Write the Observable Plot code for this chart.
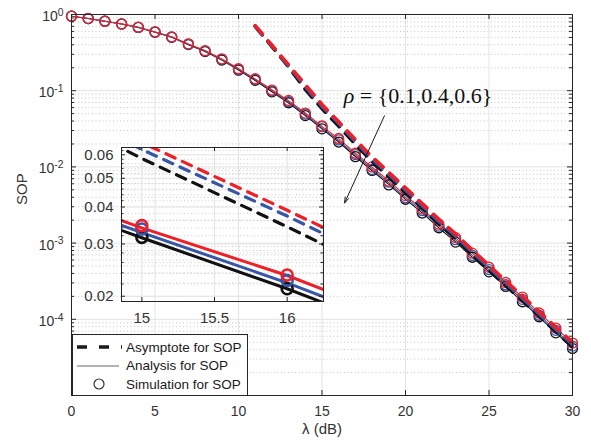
<!DOCTYPE html>
<html><head><meta charset="utf-8">
<script src="https://cdn.jsdelivr.net/npm/d3@7"></script>
<script src="https://cdn.jsdelivr.net/npm/@observablehq/plot@0.6"></script>
<style>
body{margin:0;background:#fff;}
#wrap{position:relative;width:591px;height:447px;font-family:"Liberation Sans",Arial,sans-serif;}
#wrap > svg.layer{position:absolute;left:0;top:0;overflow:visible;}
</style></head><body><div id="wrap"></div>
<script>
// ---------- data ----------
const lambdaDb = [0,1,2,3,4,5,6,7,8,9,10,11,12,13,14,15,16,17,18,19,20,21,22,23,24,25,26,27,28,29,30];
const rhoValues = ["0.1","0.4","0.6"];
const seriesColors = ["#111111","#3656a8","#ee1f26"];

const analysisRho01 = [0.95,0.884,0.815,0.75,0.676,0.585,0.503,0.402,0.327,0.252,0.187,0.136,0.097,0.069,0.0473,0.0315,0.0212,0.0137,0.0089,0.0059,0.00375,0.00249,0.00158,0.00104,0.00065,0.000422,0.000268,0.000171,0.000107,0.0000668,0.0000418];
const analysisRho04 = [0.95,0.885,0.816,0.752,0.678,0.588,0.507,0.406,0.332,0.257,0.191,0.14,0.1,0.0715,0.049,0.0328,0.0222,0.0144,0.0094,0.0062,0.00395,0.00264,0.00168,0.0011,0.00069,0.000448,0.000285,0.000182,0.000114,0.0000712,0.0000447];
const analysisRho06 = [0.95,0.885,0.817,0.753,0.68,0.59,0.51,0.41,0.336,0.261,0.195,0.143,0.103,0.074,0.051,0.034,0.0235,0.0152,0.0099,0.0066,0.0042,0.0028,0.00178,0.00117,0.00074,0.00048,0.000305,0.000195,0.000122,0.0000765,0.000049];

const simRho01 = [0.951,0.883,0.816,0.749,0.677,0.586,0.502,0.403,0.326,0.253,0.186,0.137,0.0965,0.0695,0.0471,0.0316,0.0212,0.0136,0.0090,0.0058,0.00376,0.00248,0.00159,0.00103,0.000652,0.00042,0.00027,0.00017,0.000108,0.0000665,0.0000415];
const simRho04 = [0.95,0.886,0.815,0.753,0.677,0.589,0.506,0.407,0.331,0.258,0.19,0.141,0.0995,0.072,0.0492,0.0337,0.0226,0.0145,0.0093,0.0063,0.00394,0.00266,0.00167,0.00111,0.000688,0.00045,0.000284,0.000183,0.000113,0.0000716,0.0000445];
const simRho06 = [0.951,0.884,0.818,0.752,0.681,0.592,0.508,0.412,0.335,0.262,0.194,0.144,0.102,0.0745,0.0508,0.0346,0.0236,0.0151,0.0100,0.0065,0.0042,0.00281,0.00177,0.00118,0.000738,0.000482,0.000304,0.000196,0.000121,0.0000768,0.0000488];

const asymLambdaDb = [11,12,13,14,15,16,17,18,19,20,21,22,23,24,25,26,27,28,29,30];
const asymRho01 = [0.70,0.38,0.205,0.104,0.0583,0.0343,0.0198,0.0118,0.0074,0.0046,0.0029,0.00179,0.00115,0.0007,0.00044,0.000278,0.000176,0.00011,0.000069,0.0000435];
const asymRho04 = [0.708,0.388,0.211,0.113,0.0625,0.0373,0.0215,0.0127,0.008,0.005,0.0031,0.00193,0.00124,0.00076,0.00048,0.0003,0.00019,0.000118,0.000074,0.0000468];
const asymRho06 = [0.716,0.395,0.218,0.12,0.066,0.039,0.0228,0.0135,0.0085,0.0053,0.0033,0.00205,0.00132,0.00081,0.00051,0.00032,0.000202,0.000126,0.000079,0.00005];

const xTicksMain = [0,5,10,15,20,25,30];
const yTicksMain = [1,0.1,0.01,0.001,0.0001];
const xTicksInset = [15,15.5,16];
const yTicksInset = [0.02,0.03,0.04,0.05,0.06];

const annotationLabel = "ρ = {0.1,0.4,0.6}";
const annotationTextPos = {x: 16.3, y: 0.086};
const annotationArrow = {x1: 18.74, y1: 0.0469, x2: 16.35, y2: 0.00336};

const legendLabels = ["Asymptote for SOP","Analysis for SOP","Simulation for SOP"];

// ---------- tidy tables ----------
const analysisSets = [analysisRho01, analysisRho04, analysisRho06];
const simSets = [simRho01, simRho04, simRho06];
const asymSets = [asymRho01, asymRho04, asymRho06];
const analysis = [], sim = [], asym = [];
rhoValues.forEach((rho, i) => {
  lambdaDb.forEach((l, j) => {
    analysis.push({lambda: l, sop: analysisSets[i][j], rho});
    sim.push({lambda: l, sop: simSets[i][j], rho});
  });
  asymLambdaDb.forEach((l, j) => asym.push({lambda: l, sop: asymSets[i][j], rho}));
});
const colorOf = rho => seriesColors[rhoValues.indexOf(rho)];

// minor log ticks
const minorMain = [];
for (let e = -5; e < 0; e++) for (let m = 2; m <= 9; m++) minorMain.push(m * Math.pow(10, e));
const minorInset = [];
for (let v = 20; v <= 62; v += 2) if (v % 10 !== 0) minorInset.push(v / 1000);

const W = 591, H = 447;
const mm = {l: 71, r: 19, t: 14, b: 52};
const innerW = W - mm.l - mm.r, innerH = H - mm.t - mm.b;
const tickCol = "#262626";
const labelCol = "#333333";

function seriesMarks(opts) {
  const marks = [];
  rhoValues.forEach(rho => {
    marks.push(Plot.line(analysis.filter(d => d.rho === rho), {x: "lambda", y: "sop", stroke: colorOf(rho), strokeWidth: opts.lineW, clip: opts.clip}));
  });
  rhoValues.forEach(rho => {
    marks.push(Plot.dot(sim.filter(d => d.rho === rho), {x: "lambda", y: "sop", r: opts.r, stroke: colorOf(rho), strokeWidth: opts.dotW, fill: "none", clip: opts.clip}));
  });
  rhoValues.forEach(rho => {
    marks.push(Plot.line(asym.filter(d => d.rho === rho), {x: "lambda", y: "sop", stroke: colorOf(rho), strokeWidth: opts.dashW, strokeDasharray: opts.dash, clip: opts.clip}));
  });
  return marks;
}

// ---------- main plot ----------
const main = Plot.plot({
  width: W, height: H,
  marginLeft: mm.l, marginRight: mm.r, marginTop: mm.t, marginBottom: mm.b,
  style: {fontFamily: "Liberation Sans, Arial, sans-serif", color: labelCol, background: "transparent"},
  x: {domain: [0, 30]},
  y: {type: "log", domain: [1e-5, 1]},
  marks: [
    Plot.ruleY(minorMain, {stroke: "#b8b8b8", strokeWidth: 0.8, strokeDasharray: "1,2.5"}),
    Plot.ruleX(xTicksMain, {stroke: "#e3e3e3", strokeWidth: 1}),
    Plot.ruleY(yTicksMain, {stroke: "#e3e3e3", strokeWidth: 1}),
    ...seriesMarks({lineW: 1.1, r: 5, dotW: 1.3, dashW: 3.6, dash: "11,9", clip: false}),
    Plot.frame({stroke: tickCol, strokeWidth: 1}),
    Plot.tickX(xTicksMain, {x: d => d, stroke: tickCol, insetTop: innerH - 5}),
    Plot.tickX(xTicksMain, {x: d => d, stroke: tickCol, insetBottom: innerH - 5}),
    Plot.tickY(yTicksMain.concat([1e-5]), {y: d => d, stroke: tickCol, insetRight: innerW - 5}),
    Plot.tickY(yTicksMain.concat([1e-5]), {y: d => d, stroke: tickCol, insetLeft: innerW - 5}),
    Plot.tickY(minorMain, {y: d => d, stroke: tickCol, insetRight: innerW - 3}),
    Plot.tickY(minorMain, {y: d => d, stroke: tickCol, insetLeft: innerW - 3}),
    Plot.axisX({ticks: xTicksMain, tickSize: 0, tickPadding: 11, fontSize: 14, label: null, tickFormat: d => String(d)}),
    Plot.axisY({ticks: yTicksMain, tickSize: 0, tickPadding: 8, fontSize: 14, label: null, tickFormat: d => String(Math.round(Math.log10(d)))}),
    Plot.text(["λ (dB)"], {frameAnchor: "bottom", dy: 38, fontSize: 15, fill: labelCol}),
    Plot.text(["SOP"], {frameAnchor: "left", dx: -49, rotate: -90, fontSize: 15, fill: labelCol}),
    Plot.arrow([annotationArrow], {x1: "x1", y1: "y1", x2: "x2", y2: "y2", stroke: "#1a1a1a", strokeWidth: 1, headLength: 9, headAngle: 36}),
    Plot.text([annotationTextPos], {x: "x", y: "y", text: () => annotationLabel, textAnchor: "start", fontFamily: "Liberation Serif, Times New Roman, serif", fontSize: 22, fill: "#111"})
  ]
});
main.classList.add("layer");

// superscripts on the log tick labels
d3.select(main).selectAll('g[aria-label="y-axis tick label"] text').each(function() {
  const exp = this.textContent;
  const t = d3.select(this);
  t.text(null);
  t.append("tspan").text("10");
  t.append("tspan").attr("dy", "-0.5em").attr("font-size", "0.74em").text(exp);
  t.attr("transform", (t.attr("transform") || "") + " translate(0,2)");
});
// italic rho
d3.select(main).selectAll('g[aria-label="text"] text').each(function() {
  if (this.textContent === annotationLabel) {
    const t = d3.select(this);
    t.text(null);
    t.append("tspan").attr("font-style", "italic").text("ρ");
    t.append("tspan").text(annotationLabel.slice(1));
  }
});

// ---------- inset ----------
const ins = {l: 121, r: W - 323, t: 147, b: H - 301};
const insW = W - ins.l - ins.r, insH = H - ins.t - ins.b;
const inset = Plot.plot({
  width: W, height: H,
  marginLeft: ins.l, marginRight: ins.r, marginTop: ins.t, marginBottom: ins.b,
  style: {fontFamily: "Liberation Sans, Arial, sans-serif", color: labelCol, background: "transparent"},
  x: {domain: [14.86, 16.25]},
  y: {type: "log", domain: [0.0192, 0.0635]},
  marks: [
    Plot.ruleY(minorInset, {stroke: "#c4c4c4", strokeWidth: 0.8, strokeDasharray: "1,2.5"}),
    Plot.ruleX(xTicksInset, {stroke: "#e3e3e3"}),
    Plot.ruleY(yTicksInset, {stroke: "#e3e3e3"}),
    ...seriesMarks({lineW: 3, r: 5.5, dotW: 2.6, dashW: 3.2, dash: "10,8", clip: true}),
    Plot.frame({stroke: tickCol, strokeWidth: 1}),
    Plot.tickX(xTicksInset, {x: d => d, stroke: tickCol, insetTop: insH - 4}),
    Plot.tickX(xTicksInset, {x: d => d, stroke: tickCol, insetBottom: insH - 4}),
    Plot.tickY(yTicksInset, {y: d => d, stroke: tickCol, insetRight: insW - 4}),
    Plot.tickY(yTicksInset, {y: d => d, stroke: tickCol, insetLeft: insW - 4}),
    Plot.tickY(minorInset, {y: d => d, stroke: tickCol, insetRight: insW - 2.5}),
    Plot.tickY(minorInset, {y: d => d, stroke: tickCol, insetLeft: insW - 2.5}),
    Plot.axisX({ticks: xTicksInset, tickSize: 0, tickPadding: 11, fontSize: 15, label: null, tickFormat: d => String(d)}),
    Plot.axisY({ticks: yTicksInset, tickSize: 0, tickPadding: 8, fontSize: 15, label: null, tickFormat: d => d.toFixed(2)})
  ]
});
inset.classList.add("layer");

const wrap = document.getElementById("wrap");
wrap.appendChild(main);
wrap.appendChild(inset);

// ---------- legend ----------
const lg = d3.select(wrap).append("svg").attr("id", "legend").attr("width", 177).attr("height", 63)
  .style("position", "absolute").style("left", "72px").style("top", "334px");
lg.append("rect").attr("x", 0.5).attr("y", 0.5).attr("width", 175).attr("height", 61).attr("fill", "#fff").attr("stroke", tickCol);
lg.append("line").attr("x1", 5).attr("x2", 50).attr("y1", 13).attr("y2", 13).attr("stroke", "#1a1a1a").attr("stroke-width", 3.6).attr("stroke-dasharray", "10,12");
lg.append("line").attr("x1", 5).attr("x2", 47).attr("y1", 32).attr("y2", 32).attr("stroke", "#666").attr("stroke-width", 1);
lg.append("circle").attr("cx", 27).attr("cy", 50).attr("r", 5).attr("fill", "none").attr("stroke", "#333").attr("stroke-width", 1.2);
legendLabels.forEach((s, i) => {
  lg.append("text").attr("x", 54).attr("y", 13 + i * 18.5).attr("dy", "0.35em").attr("font-size", 13.5).attr("fill", "#1a1a1a").attr("font-family", "Liberation Sans, Arial, sans-serif").text(s);
});
</script>
</body></html>
